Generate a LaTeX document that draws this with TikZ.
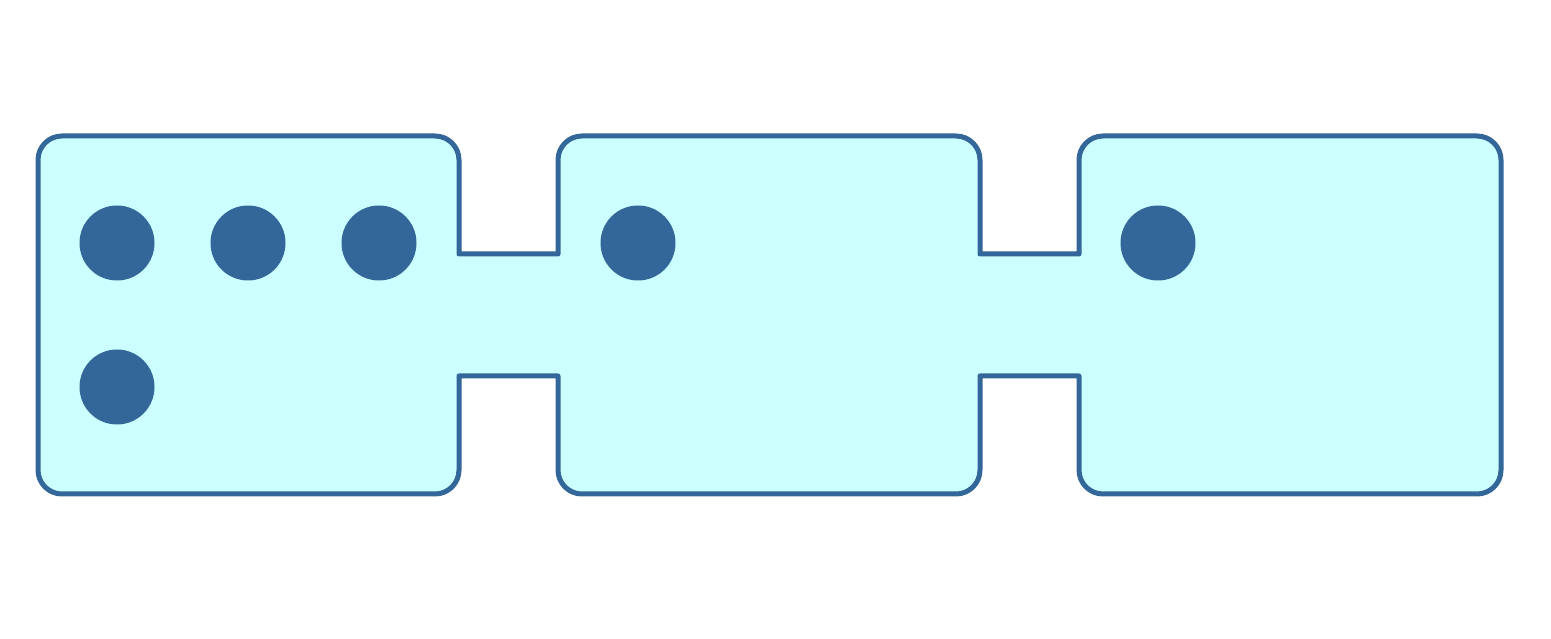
\documentclass[tikz,border=0pt]{standalone}
\definecolor{wallblue}{RGB}{51, 102, 153}
\definecolor{lumen}{RGB}{204, 255, 255}
\usepackage{tikz}
\usetikzlibrary{positioning}
\tikzset{
    chamberwall/.style={
        draw=wallblue,
        fill=lumen,
        line width=5pt,
        line join=round
    },
    beadbox/.style={
        circle,
        draw=none,
        fill=wallblue,
        inner sep=0pt,
        minimum size=75pt
    }
}
\begin{document}
\begin{tikzpicture}[x=1pt, y=1pt]
          \useasboundingbox (0,0) rectangle (1551,639);
          % outline of the three chambers and the two channels
          \draw[chamberwall] (38,169) -- (38,479) arc[start angle=180, end angle=90, radius=24]
              -- (435,503) arc[start angle=90, end angle=0, radius=24]
              -- (459,385) -- (558,385)
              -- (558,479) arc[start angle=180, end angle=90, radius=24]
              -- (956,503) arc[start angle=90, end angle=0, radius=24]
              -- (980,385) -- (1079,385)
              -- (1079,479) arc[start angle=180, end angle=90, radius=24]
              -- (1477,503) arc[start angle=90, end angle=0, radius=24]
              -- (1501,169) arc[start angle=0, end angle=-90, radius=24]
              -- (1103,145) arc[start angle=270, end angle=180, radius=24]
              -- (1079,263) -- (980,263)
              -- (980,169) arc[start angle=0, end angle=-90, radius=24]
              -- (582,145) arc[start angle=270, end angle=180, radius=24]
              -- (558,263) -- (459,263)
              -- (459,169) arc[start angle=0, end angle=-90, radius=24]
              -- (62,145) arc[start angle=270, end angle=180, radius=24]
              -- cycle;
          
          \node[beadbox] (bead1) at (117,396) {};
          \node[beadbox] (bead2) at (248,396) {};
          \node[beadbox] (bead3) at (379,396) {};
          \node[beadbox] (bead4) at (117,252) {};
          \node[beadbox] (bead5) at (638,396) {};
          \node[beadbox] (bead6) at (1158,396) {};
        \end{tikzpicture}
\end{document}
